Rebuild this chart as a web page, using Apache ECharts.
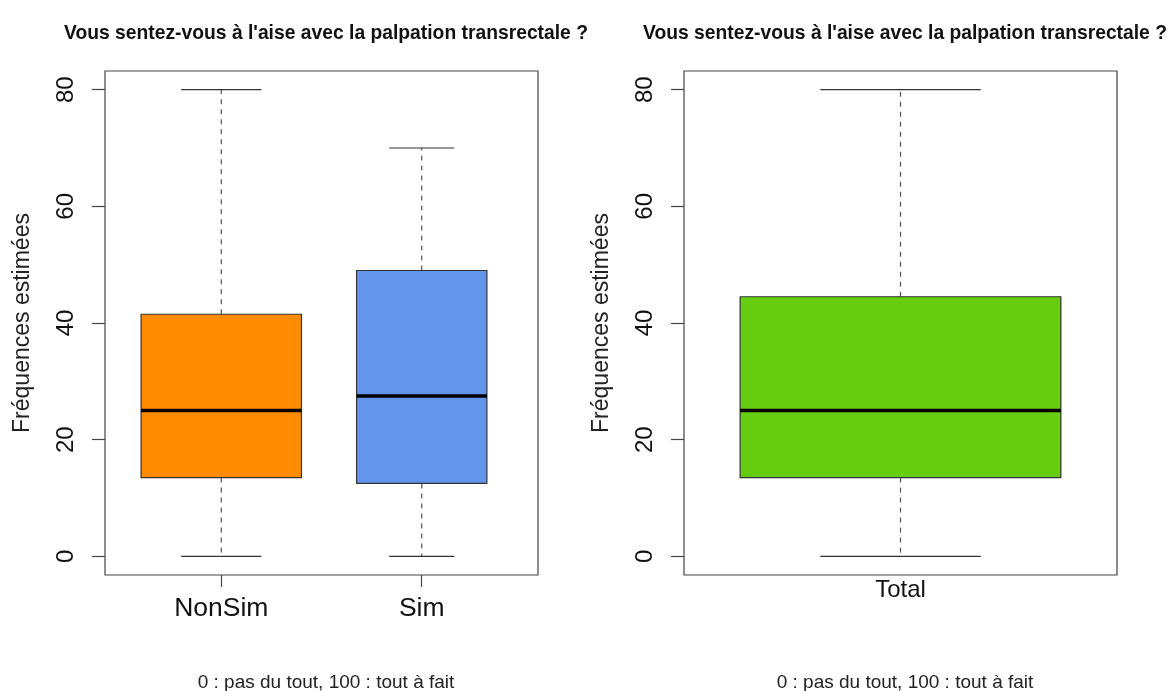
<!DOCTYPE html>
<html>
<head>
<meta charset="utf-8">
<script src="https://cdn.jsdelivr.net/npm/echarts@6/dist/echarts.min.js"></script>
<style>
  html, body { margin: 0; padding: 0; background: #fff; }
  #main { width: 1168px; height: 691px; }
</style>
</head>
<body>
<div id="main"></div>
<script>
// données : [min, Q1, médiane, Q3, max]
const titleText = "Vous sentez-vous à l'aise avec la palpation transrectale ?"
const subText = '0 : pas du tout, 100 : tout à fait'
const yName = 'Fréquences estimées'
const yTicks = [0, 20, 40, 60, 80]

const groupsLeft = ['NonSim', 'Sim']
const statsLeft = [
  [0, 13.5, 25, 41.5, 80],
  [0, 12.5, 27.5, 49, 70]
]
const colorsLeft = ['#FF8C00', '#6495ED']

const groupsRight = ['Total']
const statsRight = [
  [0, 13.5, 25, 44.5, 80]
]
const colorsRight = ['#66CD11']

// largeur relative des boîtes (varwidth)
const widthsLeft = [0.8, 0.65]
const widthsRight = [0.8]

const font = 'Liberation Sans, Arial, Helvetica, sans-serif'

const chart = echarts.init(document.getElementById('main'))

// boîte à moustaches façon R
function renderBox (params, api) {
  const x = api.value(0)
  const w = api.value(6)
  const color = api.value(7)
  const pMin = api.coord([x, api.value(1)])
  const pQ1 = api.coord([x, api.value(2)])
  const pMed = api.coord([x, api.value(3)])
  const pQ3 = api.coord([x, api.value(4)])
  const pMax = api.coord([x, api.value(5)])
  const half = api.size([w, 0])[0] / 2
  const cx = pMed[0]
  const dash = { stroke: '#555', lineWidth: 1.2, lineDash: [5, 5] }
  const solid = { stroke: '#333', lineWidth: 1.2 }
  return {
    type: 'group',
    children: [
      { type: 'line', shape: { x1: cx, y1: pQ3[1], x2: cx, y2: pMax[1] }, style: dash },
      { type: 'line', shape: { x1: cx, y1: pQ1[1], x2: cx, y2: pMin[1] }, style: dash },
      { type: 'line', shape: { x1: cx - half / 2, y1: pMax[1], x2: cx + half / 2, y2: pMax[1] }, style: solid },
      { type: 'line', shape: { x1: cx - half / 2, y1: pMin[1], x2: cx + half / 2, y2: pMin[1] }, style: solid },
      {
        type: 'rect',
        shape: { x: cx - half, y: pQ3[1], width: half * 2, height: pQ1[1] - pQ3[1] },
        style: { fill: color, stroke: '#333', lineWidth: 1.2 }
      },
      { type: 'line', shape: { x1: cx - half, y1: pMed[1], x2: cx + half, y2: pMed[1] }, style: { stroke: '#000', lineWidth: 3.5 } }
    ]
  }
}

function buildData (stats, widths, colors) {
  return stats.map((s, i) => [i + 1].concat(s, [widths[i], colors[i]]))
}

function xAxisFor (groups, gridIndex, showTicks, fontSize, margin) {
  const n = groups.length
  return {
    type: 'value',
    gridIndex: gridIndex,
    min: 0.5 - 0.04 * n,
    max: n + 0.5 + 0.04 * n,
    splitLine: { show: false },
    axisLine: { show: false, onZero: false },
    axisTick: {
      show: showTicks,
      customValues: groups.map((g, i) => i + 1),
      length: 12,
      lineStyle: { color: '#444', width: 1.2 }
    },
    axisLabel: {
      customValues: groups.map((g, i) => i + 1),
      formatter: v => groups[Math.round(v) - 1] || '',
      fontFamily: font,
      fontSize: fontSize,
      color: '#111',
      margin: margin
    }
  }
}

function yAxisFor (gridIndex) {
  return {
    type: 'value',
    gridIndex: gridIndex,
    min: -3.2,
    max: 83.2,
    name: yName,
    nameLocation: 'middle',
    nameGap: 71,
    nameTextStyle: { fontFamily: font, fontSize: 23, color: '#222' },
    splitLine: { show: false },
    axisLine: { show: false, onZero: false },
    axisTick: {
      customValues: yTicks,
      length: 13,
      lineStyle: { color: '#444', width: 1.2 }
    },
    axisLabel: {
      customValues: yTicks,
      rotate: 90,
      fontFamily: font,
      fontSize: 24,
      color: '#111',
      margin: 27
    }
  }
}

const titleStyle = { fontFamily: font, fontSize: 19.3, fontWeight: 'bold', color: '#111' }
const subStyle = { fontFamily: font, fontSize: 19, fontWeight: 'normal', color: '#222' }

const option = {
  backgroundColor: '#fff',
  animation: false,
  title: [
    { text: titleText, left: 321, top: 19, textAlign: 'center', textStyle: titleStyle },
    { text: titleText, left: 900, top: 19, textAlign: 'center', textStyle: titleStyle },
    { text: subText, left: 321, top: 668, textAlign: 'center', textStyle: subStyle },
    { text: subText, left: 900, top: 668, textAlign: 'center', textStyle: subStyle }
  ],
  grid: [
    { left: 105, top: 71, width: 433, height: 504, show: true, borderColor: '#444', borderWidth: 1.2, backgroundColor: 'transparent', outerBoundsMode: 'none' },
    { left: 684, top: 71, width: 433, height: 504, show: true, borderColor: '#444', borderWidth: 1.2, backgroundColor: 'transparent', outerBoundsMode: 'none' }
  ],
  xAxis: [
    xAxisFor(groupsLeft, 0, true, 26.5, 20),
    xAxisFor(groupsRight, 1, false, 24, 3)
  ],
  yAxis: [yAxisFor(0), yAxisFor(1)],
  series: [
    {
      type: 'custom',
      xAxisIndex: 0,
      yAxisIndex: 0,
      renderItem: renderBox,
      encode: { x: 0, y: [1, 2, 3, 4, 5] },
      data: buildData(statsLeft, widthsLeft, colorsLeft)
    },
    {
      type: 'custom',
      xAxisIndex: 1,
      yAxisIndex: 1,
      renderItem: renderBox,
      encode: { x: 0, y: [1, 2, 3, 4, 5] },
      data: buildData(statsRight, widthsRight, colorsRight)
    }
  ]
}

chart.setOption(option)
</script>
</body>
</html>
